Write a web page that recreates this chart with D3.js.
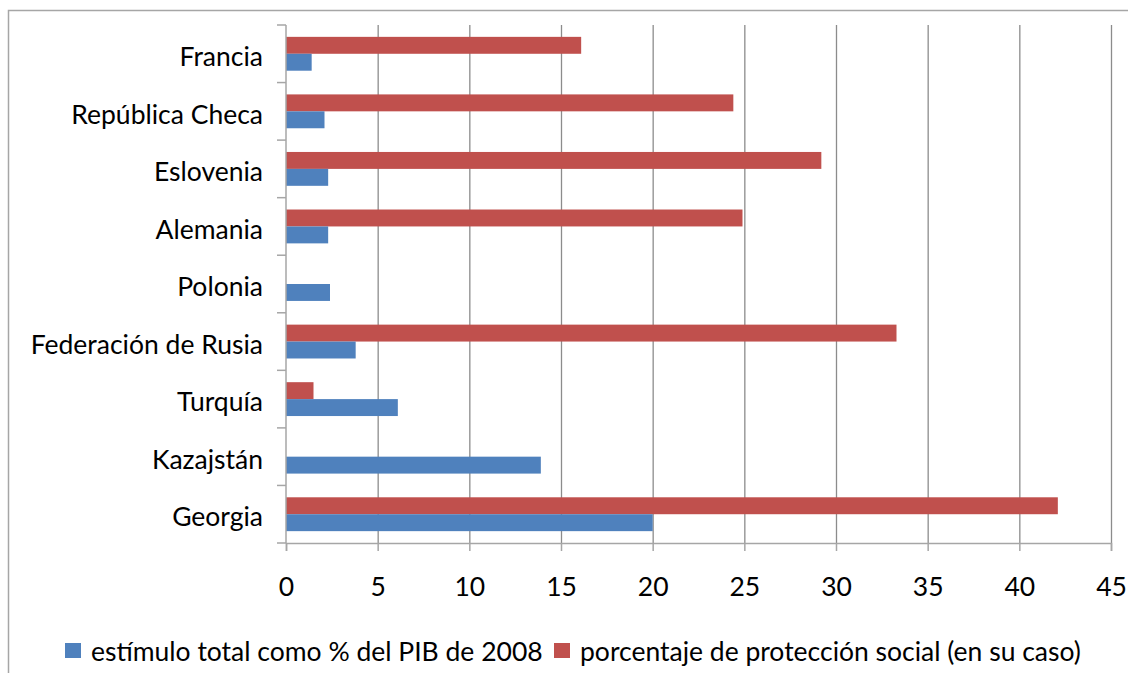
<!DOCTYPE html>
<html>
<head>
<meta charset="utf-8">
<script src="https://cdn.jsdelivr.net/npm/d3@7"></script>
<style>
  body { margin: 0; background: #fff; }
  text { font-family: Lato, "Open Sans", sans-serif; fill: #000; }
</style>
</head>
<body>
<div id="chart"></div>
<script>
// categories top to bottom, as shown
var countries = ["Francia", "República Checa", "Eslovenia", "Alemania", "Polonia",
                 "Federación de Rusia", "Turquía", "Kazajstán", "Georgia"];
// estímulo total como % del PIB de 2008
var stimulus = [1.4, 2.1, 2.3, 2.3, 2.4, 3.8, 6.1, 13.9, 20.0];
// porcentaje de protección social (null = no value)
var socialShare = [16.1, 24.4, 29.2, 24.9, null, 33.3, 1.5, null, 42.1];
var xTicks = [0, 5, 10, 15, 20, 25, 30, 35, 40, 45];
var seriesNames = ["estímulo total como % del PIB de 2008",
                   "porcentaje de protección social (en su caso)"];
var seriesColors = ["#4f81bd", "#c0504d"];

var width = 1128, height = 673;
var plot = {left: 286, right: 1111, top: 25, bottom: 543};
var fontSize = "26.5px";

var svg = d3.select("#chart").append("svg")
  .attr("width", width)
  .attr("height", height);

// outer chart frame (runs off the right / bottom edge)
svg.append("rect")
  .attr("x", 8.5).attr("y", 10.5)
  .attr("width", 1130).attr("height", 680)
  .attr("fill", "none")
  .attr("stroke", "#a6a6a6")
  .attr("stroke-width", 1.5);

var x = d3.scaleLinear().domain([0, 45]).range([plot.left, plot.right]);
var y = d3.scaleBand().domain(countries).range([plot.top, plot.bottom]);

// gridlines
svg.append("g")
  .selectAll("line")
  .data(xTicks.slice(1))
  .enter().append("line")
    .attr("x1", function(d) { return x(d) + 0.5; })
    .attr("x2", function(d) { return x(d) + 0.5; })
    .attr("y1", plot.top)
    .attr("y2", plot.bottom)
    .attr("stroke", "#8c8c8c")
    .attr("stroke-width", 1.3);

// bars, two per category: red on top, blue below
var groupH = y.bandwidth() / 1.7;
var barH = groupH / 2;
var rows = countries.map(function(c, i) {
  return {name: c, blue: stimulus[i], red: socialShare[i]};
});

var g = svg.append("g");
g.selectAll("rect.red")
  .data(rows.filter(function(d) { return d.red != null; }))
  .enter().append("rect")
    .attr("class", "red")
    .attr("x", x(0))
    .attr("y", function(d) { return y(d.name) + (y.bandwidth() - groupH) / 2; })
    .attr("width", function(d) { return x(d.red) - x(0); })
    .attr("height", barH)
    .attr("fill", seriesColors[1]);

g.selectAll("rect.blue")
  .data(rows)
  .enter().append("rect")
    .attr("class", "blue")
    .attr("x", x(0))
    .attr("y", function(d) { return y(d.name) + (y.bandwidth() - groupH) / 2 + barH; })
    .attr("width", function(d) { return x(d.blue) - x(0); })
    .attr("height", barH)
    .attr("fill", seriesColors[0]);

// x axis
var xAxis = svg.append("g")
  .attr("transform", "translate(0," + plot.bottom + ")")
  .call(d3.axisBottom(x).tickValues(xTicks).tickSize(8).tickPadding(26));
xAxis.select(".domain").attr("stroke", "#a6a6a6").attr("stroke-width", 1.5);
xAxis.selectAll(".tick line").attr("stroke", "#a6a6a6").attr("stroke-width", 1.5);
xAxis.selectAll(".tick text")
  .style("font-family", "Lato, 'Open Sans', sans-serif")
  .style("font-size", fontSize)
  .attr("fill", "#000");

// y axis: ticks between categories
var yAxisG = svg.append("g")
  .attr("transform", "translate(" + plot.left + ",0)");
yAxisG.append("line")
  .attr("x1", 0).attr("x2", 0)
  .attr("y1", plot.top).attr("y2", plot.bottom)
  .attr("stroke", "#a6a6a6").attr("stroke-width", 1.5);
var bounds = countries.map(function(c) { return y(c); }).concat([plot.bottom]);
yAxisG.selectAll("line.tick")
  .data(bounds)
  .enter().append("line")
    .attr("class", "tick")
    .attr("x1", -9).attr("x2", 0)
    .attr("y1", function(d) { return d; })
    .attr("y2", function(d) { return d; })
    .attr("stroke", "#a6a6a6").attr("stroke-width", 1.5);
yAxisG.selectAll("text")
  .data(countries)
  .enter().append("text")
    .attr("x", -23)
    .attr("y", function(d) { return y(d) + y.bandwidth() / 2 + 3; })
    .attr("dy", "0.35em")
    .attr("text-anchor", "end")
    .style("font-size", fontSize)
    .text(function(d) { return d; });

// legend
var legendItems = [
  {name: seriesNames[0], color: seriesColors[0], x: 65},
  {name: seriesNames[1], color: seriesColors[1], x: 554}
];
var legend = svg.append("g").selectAll("g")
  .data(legendItems)
  .enter().append("g")
    .attr("transform", function(d) { return "translate(" + d.x + ",643)"; });
legend.append("rect")
  .attr("width", 16).attr("height", 15)
  .attr("fill", function(d) { return d.color; });
legend.append("text")
  .attr("x", 26).attr("y", 9)
  .attr("dy", "0.35em")
  .style("font-size", fontSize)
  .text(function(d) { return d.name; });
</script>
</body>
</html>
